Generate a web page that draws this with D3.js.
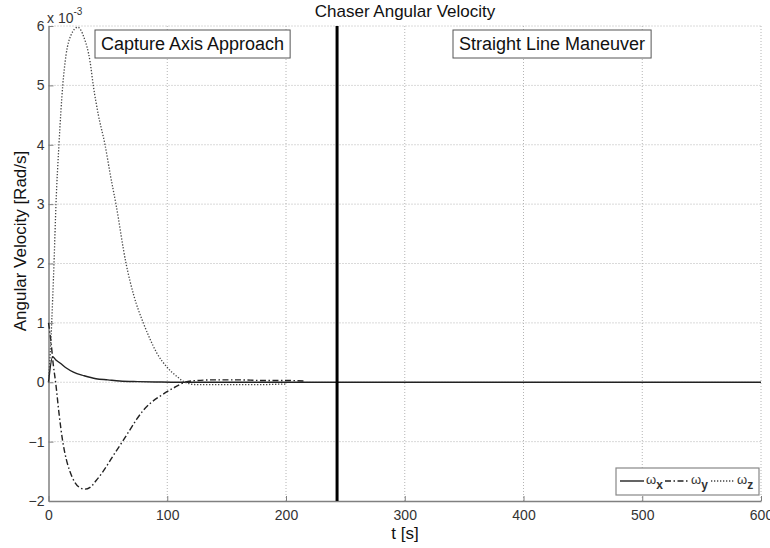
<!DOCTYPE html>
<html>
<head>
<meta charset="utf-8">
<script src="https://cdn.jsdelivr.net/npm/d3@7"></script>
<style>
	body { margin: 0; background: #fff; }
	svg { display: block; font-family: "Liberation Sans", Arial, sans-serif; }
</style>
</head>
<body>
<div id="chart"></div>
<script>
//--data (values in 1e-3 rad/s)
var x_ticks = [0, 100, 200, 300, 400, 500, 600];
var y_ticks = [-2, -1, 0, 1, 2, 3, 4, 5, 6];

var wx_t = [0, 3.5, 6, 10, 15, 21, 30, 40, 50, 60, 75, 90, 110, 130, 600];
var wx_v = [0, 0.43, 0.38, 0.32, 0.24, 0.17, 0.11, 0.06, 0.04, 0.02, 0.01, 0.005, 0, 0, 0];

var wy_t = [0, 2, 4, 6, 9, 12, 15, 18, 22, 26, 30.7, 35, 40, 45, 50, 55, 61.6, 68, 74, 80, 86, 95, 105, 115, 125, 140, 160, 180, 200, 216];
var wy_v = [1.0, 0.7, 0.3, 0, -0.55, -1, -1.3, -1.5, -1.68, -1.77, -1.8, -1.77, -1.66, -1.53, -1.38, -1.22, -1.02, -0.82, -0.63, -0.47, -0.35, -0.22, -0.1, 0, 0.03, 0.04, 0.04, 0.03, 0.03, 0.02];

var wz_t = [0, 2, 3.5, 4.8, 6.3, 8.8, 12, 14.7, 19, 24.6, 30, 35, 37.7, 42, 47.6, 52, 56.8, 65.3, 72, 79.8, 85, 91, 100, 108, 115, 125, 140, 160, 180, 200, 216];
var wz_v = [0, 0.7, 1.4, 2.1, 3, 4, 5, 5.5, 5.85, 5.98, 5.8, 5.4, 5, 4.5, 4, 3.5, 3, 2, 1.45, 1, 0.75, 0.5, 0.25, 0.1, 0, -0.04, -0.04, -0.04, -0.04, -0.03];

var phase_t = 243;
var phase_labels = ["Capture Axis Approach", "Straight Line Maneuver"];
var legend_names = ["x", "y", "z"];

//--svg
var width = 770, height = 548;
var svg = d3.select("#chart").append("svg")
	.attr("width", width)
	.attr("height", height);

var x = d3.scaleLinear().domain([0, 600]).range([48.5, 761]);
var y = d3.scaleLinear().domain([-2, 6]).range([501, 26]);

//grid
svg.append("g").selectAll("line").data(x_ticks.slice(1)).enter().append("line")
	.attr("x1", function (d) { return x(d); })
	.attr("x2", function (d) { return x(d); })
	.attr("y1", y(-2)).attr("y2", y(6))
	.style("stroke", "#b4b4b4").style("stroke-dasharray", "1,2").style("stroke-width", 1);
svg.append("g").selectAll("line").data(y_ticks.slice(1)).enter().append("line")
	.attr("y1", function (d) { return y(d); })
	.attr("y2", function (d) { return y(d); })
	.attr("x1", x(0)).attr("x2", x(600))
	.style("stroke", "#b4b4b4").style("stroke-dasharray", "1,2").style("stroke-width", 1);

//axes
var xAxis = svg.append("g")
	.attr("transform", "translate(0," + y(-2) + ")")
	.call(d3.axisBottom(x).tickValues(x_ticks).tickSizeInner(-5).tickSizeOuter(0).tickPadding(9));
var yAxis = svg.append("g")
	.attr("transform", "translate(" + x(0) + ",0)")
	.call(d3.axisLeft(y).tickValues(y_ticks).tickSizeInner(-5).tickSizeOuter(0).tickPadding(4));
[xAxis, yAxis].forEach(function (a) {
	a.select(".domain").style("stroke", "#808080").style("stroke-width", 1.5);
	a.selectAll(".tick line").style("stroke", "#808080");
	a.selectAll("text").style("font-size", "14px").style("fill", "#333").style("font-family", "Liberation Sans, Arial, sans-serif");
});

//exponent
var expo = svg.append("text").attr("x", 47).attr("y", 23)
	.style("font-size", "14px").style("fill", "#333");
expo.append("tspan").text("x 10");
expo.append("tspan").attr("dy", -8).style("font-size", "10px").text("-3");

//lines
function make_line(t, v) {
	return d3.line()
		.x(function (d, i) { return x(t[i]); })
		.y(function (d, i) { return y(v[i]); })
		.curve(d3.curveMonotoneX)(t);
}
var series = [
	{ t: wx_t, v: wx_v, dash: null, color: "#222", w: 1.4 },
	{ t: wy_t, v: wy_v, dash: "6,2.5,1.5,2.5", color: "#222", w: 1.4 },
	{ t: wz_t, v: wz_v, dash: "1.3,1.7", color: "#444", w: 1.3 }
];
series.forEach(function (s) {
	svg.append("path")
		.attr("d", make_line(s.t, s.v))
		.style("fill", "none")
		.style("stroke", s.color)
		.style("stroke-width", s.w)
		.style("stroke-dasharray", s.dash);
});

//phase line
svg.append("line")
	.attr("x1", x(phase_t)).attr("x2", x(phase_t))
	.attr("y1", y(6)).attr("y2", y(-2))
	.style("stroke", "#000").style("stroke-width", 3);

//phase boxes
[[95, phase_labels[0]], [453, phase_labels[1]]].forEach(function (p) {
	var g = svg.append("g");
	var txt = g.append("text").attr("x", p[0] + 6).attr("y", 50)
		.style("font-size", "18px").style("fill", "#111").text(p[1]);
	var w = txt.node().getComputedTextLength();
	g.insert("rect", "text")
		.attr("x", p[0]).attr("y", 30).attr("width", w + 12).attr("height", 28)
		.style("fill", "#fff").style("stroke", "#555").style("stroke-width", 1);
});

//titles
svg.append("text").attr("x", 405).attr("y", 17).attr("text-anchor", "middle")
	.style("font-size", "17px").style("fill", "#111").text("Chaser Angular Velocity");
svg.append("text").attr("x", 405).attr("y", 539).attr("text-anchor", "middle")
	.style("font-size", "17px").style("fill", "#111").text("t [s]");
svg.append("text").attr("transform", "translate(26,241) rotate(-90)").attr("text-anchor", "middle")
	.style("font-size", "17px").style("fill", "#111").text("Angular Velocity [Rad/s]");

//legend
var lg = svg.append("g");
lg.append("rect").attr("x", 616).attr("y", 468).attr("width", 143).attr("height", 27)
	.style("fill", "#fff").style("stroke", "#888").style("stroke-width", 1.2);
var lx = [620, 665, 711];
series.forEach(function (s, i) {
	lg.append("line").attr("x1", lx[i]).attr("x2", lx[i] + 24)
		.attr("y1", 481).attr("y2", 481)
		.style("stroke", s.color).style("stroke-width", s.w).style("stroke-dasharray", s.dash);
	var t = lg.append("text").attr("x", lx[i] + 26).attr("y", 484)
		.style("font-size", "13px").style("fill", "#333");
	t.append("tspan").text("ω");
	t.append("tspan").attr("dy", 5).style("font-size", "12px").style("font-weight", "bold").text(legend_names[i]);
});
</script>
</body>
</html>
